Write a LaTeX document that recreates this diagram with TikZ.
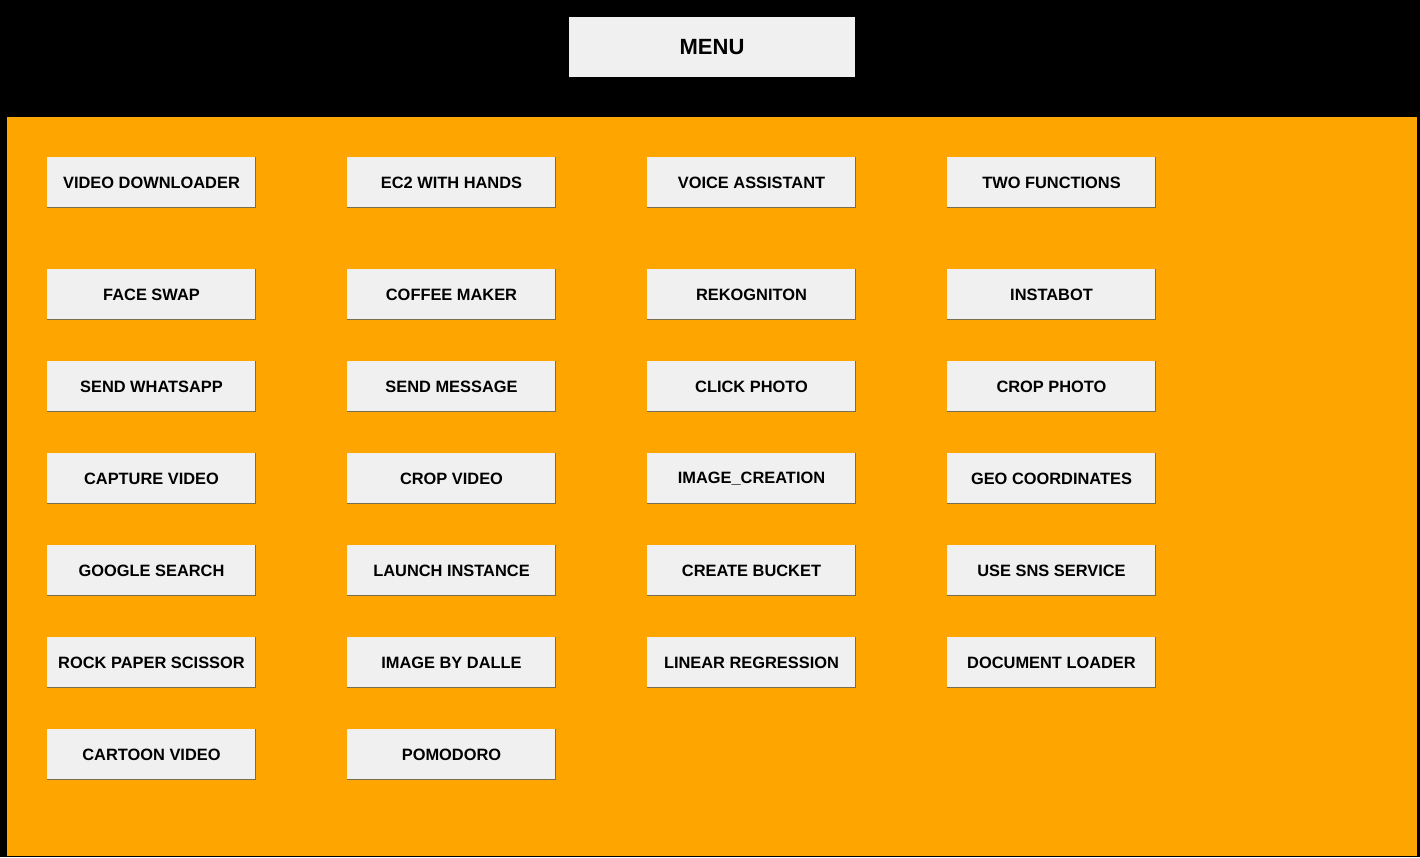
\documentclass[tikz,border=0pt]{standalone}
\usepackage{fontspec}
\setmainfont{Liberation Sans}
\definecolor{btnfill}{RGB}{240,240,240}
\definecolor{btnshade}{RGB}{120,108,82}
\definecolor{panel}{RGB}{255,165,0}
\begin{document}
\begin{tikzpicture}[x=1pt,y=-1pt,
  btn/.style={fill=btnfill, draw=none, minimum width=209pt, minimum height=51pt, inner sep=0pt, font=\fontsize{16.4}{18}\selectfont\bfseries, text=black},
  menubtn/.style={btn, minimum width=286pt, minimum height=60pt, font=\fontsize{22}{26}\selectfont\bfseries},
  shade/.style={draw=btnshade, line width=1.6pt}]
\useasboundingbox (0,0) rectangle (1420,857);
\fill[black] (0,0) rectangle (1420,857);
\fill[panel] (7,117) rectangle (1417,856);
\node[menubtn] (menu) at (712,47) {MENU};
\foreach \nm/\txt/\cx/\cy in {
  vd/VIDEO DOWNLOADER/151.5/182.5, ec/EC2 WITH HANDS/451.5/182.5, va/VOICE ASSISTANT/751.5/182.5, tf/TWO FUNCTIONS/1051.5/182.5,
  fs/FACE SWAP/151.5/294.5, cm/COFFEE MAKER/451.5/294.5, rk/REKOGNITON/751.5/294.5, ib/INSTABOT/1051.5/294.5,
  sw/SEND WHATSAPP/151.5/386.5, sm/SEND MESSAGE/451.5/386.5, cp/CLICK PHOTO/751.5/386.5, crp/CROP PHOTO/1051.5/386.5,
  cv/CAPTURE VIDEO/151.5/478.5, crv/CROP VIDEO/451.5/478.5, ic/IMAGE\_CREATION/751.5/478.5, gc/GEO COORDINATES/1051.5/478.5,
  gs/GOOGLE SEARCH/151.5/570.5, li/LAUNCH INSTANCE/451.5/570.5, cb/CREATE BUCKET/751.5/570.5, sns/USE SNS SERVICE/1051.5/570.5,
  rps/ROCK PAPER SCISSOR/151.5/662.5, dalle/IMAGE BY DALLE/451.5/662.5, lr/LINEAR REGRESSION/751.5/662.5, dl/DOCUMENT LOADER/1051.5/662.5,
  ctv/CARTOON VIDEO/151.5/754.5, pom/POMODORO/451.5/754.5}{
  \node[btn] (\nm) at (\cx,\cy) {\txt};
  \draw[shade] ([yshift=0.8pt]\nm.south west) -- ([xshift=-0.8pt,yshift=0.8pt]\nm.south east) -- ([xshift=-0.8pt]\nm.north east);
}
\end{tikzpicture}
\end{document}
